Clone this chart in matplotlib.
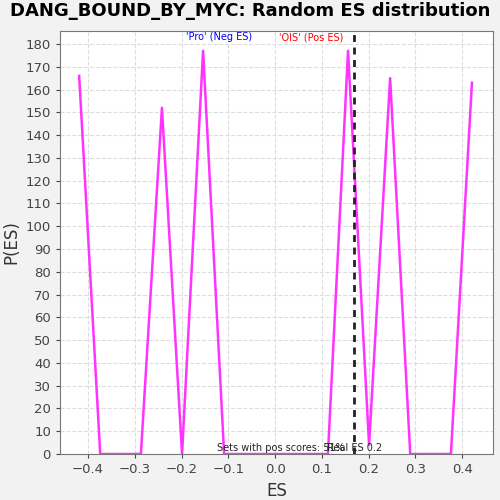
import matplotlib
matplotlib.use("Agg")
import matplotlib.pyplot as plt

# Random ES distribution curve
es = [-0.419, -0.374, -0.287, -0.242, -0.199, -0.154, -0.109,
      0.113, 0.156, 0.201, 0.246, 0.289, 0.376, 0.421]
p_es = [166, 0, 0, 152, 0, 177, 0, 0, 177, 4, 165, 0, 0, 163]
real_es = 0.169
pos_pct = 51

fig = plt.figure(figsize=(5, 5), dpi=100, facecolor='#f2f2f2')
ax = fig.add_axes([0.12, 0.092, 0.866, 0.846])
ax.set_facecolor('white')

ax.plot(es, p_es, color='#ff33ff', linewidth=1.8)
ax.axvline(real_es, color='#222222', linewidth=2, linestyle=(0, (2.5, 2)))

ax.set_xlim(-0.46, 0.466)
ax.set_ylim(0, 185.7)
ax.set_xticks([-0.4, -0.3, -0.2, -0.1, 0.0, 0.1, 0.2, 0.3, 0.4])
ax.set_yticks(range(0, 181, 10))
ax.grid(True, color='#dddddd', linestyle='--', linewidth=0.8)
ax.set_axisbelow(True)
for s in ax.spines.values():
    s.set_color('#777777')
ax.tick_params(colors='#444444', labelsize=9.5, length=3)
for lbl in ax.get_xticklabels() + ax.get_yticklabels():
    lbl.set_color('#444444')

ax.set_xlabel('ES', fontsize=12, color='#333333')
ax.set_ylabel('P(ES)', fontsize=12, color='#333333')
fig.suptitle('DANG_BOUND_BY_MYC: Random ES distribution', x=0.5, y=0.995,
             fontsize=13, fontweight='bold', va='top')

ax.text(-0.12, 183, "'Pro' (Neg ES)", color='blue', fontsize=7, ha='center', va='center')
ax.text(0.078, 183, "'OIS' (Pos ES)", color='red', fontsize=7, ha='center', va='center')
ax.text(-0.125, 0.5, f"Sets with pos scores: {pos_pct}%", fontsize=7, color='#222222', va='bottom')
ax.text(0.111, 0.5, f"Real ES {real_es:.1f}", fontsize=7, color='#222222', va='bottom')

fig.savefig('out.png', dpi=100, facecolor=fig.get_facecolor())
